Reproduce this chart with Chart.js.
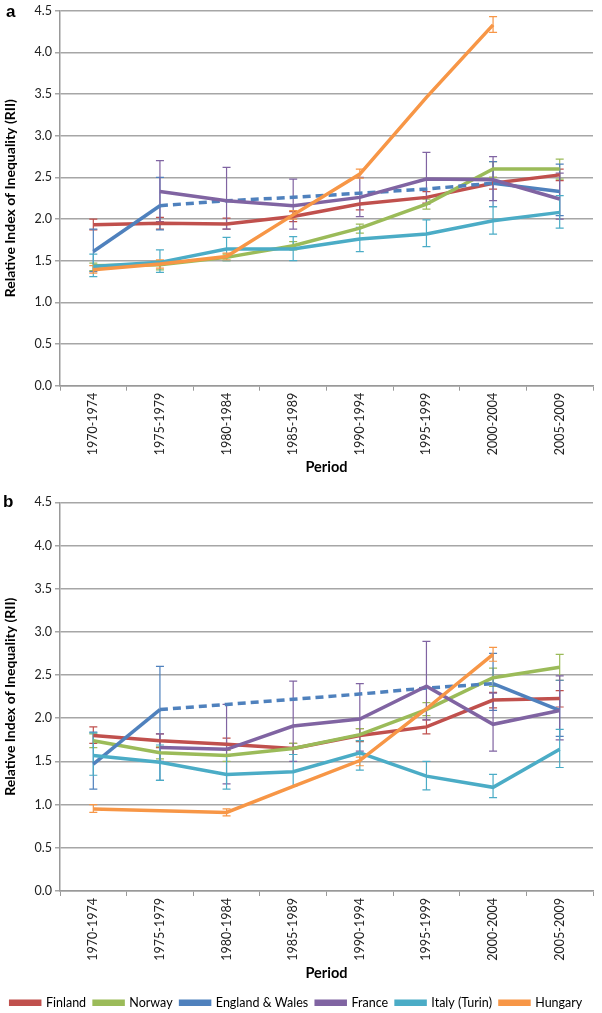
<!DOCTYPE html>
<html>
<head>
<meta charset="utf-8">
<script src="https://cdn.jsdelivr.net/npm/chart.js@4"></script>
<style>
  body { margin: 0; background: #fff; overflow: hidden; }
  .wrap { position: relative; width: 602px; }
  canvas { display: block; }
  .tag { position: absolute; font: bold 17px "Liberation Sans", Arial, sans-serif; color: #000; }
</style>
</head>
<body>
<div class="wrap">
  <div class="tag" style="left:6px;top:2px">a</div>
  <canvas id="chartA" width="602" height="488"></canvas>
  <div class="tag" style="left:3px;top:492px">b</div>
  <canvas id="chartB" width="602" height="531"></canvas>
</div>
<script>
const periods = ['1970-1974', '1975-1979', '1980-1984', '1985-1989', '1990-1994', '1995-1999', '2000-2004', '2005-2009'];
const countries = ['Finland', 'Norway', 'England & Wales', 'France', 'Italy (Turin)', 'Hungary'];
const colors = ['#C0504D', '#9BBB59', '#4F81BD', '#8064A2', '#4BACC6', '#F79646'];

// panel a
const finlandA = [1.93, 1.95, 1.94, 2.03, 2.18, 2.26, 2.43, 2.53];
const finlandALo = [1.87, 1.88, 1.88, 1.97, 2.11, 2.19, 2.36, 2.46];
const finlandAHi = [2.00, 2.02, 2.01, 2.09, 2.26, 2.33, 2.50, 2.60];
const norwayA = [1.44, 1.45, 1.54, 1.68, 1.89, 2.18, 2.60, 2.60];
const norwayALo = [1.38, 1.39, 1.50, 1.63, 1.83, 2.12, 2.50, 2.48];
const norwayAHi = [1.47, 1.50, 1.58, 1.73, 1.94, 2.24, 2.69, 2.72];
const ewA = [1.61, 2.16, 2.22, 2.26, 2.31, 2.36, 2.43, 2.33];
const ewALo = [1.37, 1.87, null, null, null, null, 2.15, 2.04];
const ewAHi = [1.88, 2.50, null, null, null, null, 2.69, 2.66];
const franceA = [null, 2.33, 2.22, 2.16, 2.26, 2.48, 2.47, 2.24];
const franceALo = [null, 1.97, 1.88, 1.88, 2.03, 2.18, 2.22, 2.00];
const franceAHi = [null, 2.70, 2.62, 2.48, 2.50, 2.80, 2.75, 2.55];
const italyA = [1.43, 1.48, 1.64, 1.64, 1.76, 1.82, 1.98, 2.08];
const italyALo = [1.31, 1.36, 1.50, 1.50, 1.61, 1.67, 1.82, 1.89];
const italyAHi = [1.58, 1.63, 1.78, 1.79, 1.90, 1.99, 2.15, 2.28];
const hungaryA = [1.39, 1.46, 1.55, 2.05, 2.54, 3.46, 4.33, null];
const hungaryALo = [1.35, 1.41, 1.51, 2.00, 2.49, null, 4.24, null];
const hungaryAHi = [1.44, 1.51, 1.59, 2.10, 2.60, null, 4.43, null];

// panel b
const finlandB = [1.80, 1.74, 1.70, 1.65, 1.80, 1.90, 2.21, 2.23];
const finlandBLo = [1.71, 1.66, 1.63, 1.58, 1.73, 1.82, 2.12, 2.13];
const finlandBHi = [1.90, 1.82, 1.77, 1.71, 1.88, 1.98, 2.30, 2.32];
const norwayB = [1.74, 1.60, 1.57, 1.65, 1.81, 2.10, 2.47, 2.59];
const norwayBLo = [1.66, 1.53, 1.50, 1.58, 1.74, 2.03, 2.37, 2.44];
const norwayBHi = [1.82, 1.67, 1.63, 1.71, 1.88, 2.18, 2.58, 2.74];
const ewB = [1.47, 2.10, 2.16, 2.22, 2.28, 2.35, 2.40, 2.09];
const ewBLo = [1.18, 1.28, null, null, null, null, 2.09, 1.79];
const ewBHi = [1.84, 2.60, null, null, null, null, 2.75, 2.44];
const franceB = [null, 1.66, 1.64, 1.91, 1.99, 2.37, 1.93, 2.09];
const franceBLo = [null, 1.50, 1.24, 1.50, 1.62, 1.98, 1.62, 1.75];
const franceBHi = [null, 1.82, 2.16, 2.43, 2.40, 2.89, 2.29, 2.49];
const italyB = [1.57, 1.49, 1.35, 1.38, 1.60, 1.33, 1.20, 1.64];
const italyBLo = [1.34, 1.28, 1.18, 1.21, 1.40, 1.17, 1.08, 1.43];
const italyBHi = [1.83, 1.69, 1.56, 1.58, 1.74, 1.50, 1.35, 1.87];
const hungaryB = [0.95, null, 0.91, 1.21, 1.51, 2.11, 2.74, null];
const hungaryBLo = [0.91, null, 0.87, null, 1.45, null, 2.66, null];
const hungaryBHi = [1.00, null, 0.95, null, 1.55, null, 2.82, null];

const font = 'Lato, sans-serif';

// draws the confidence intervals under the lines
const errorBars = {
  id: 'errorBars',
  beforeDatasetsDraw(chart) {
    const ctx = chart.ctx, x = chart.scales.x, y = chart.scales.y;
    ctx.save();
    ctx.lineWidth = 1.2;
    chart.data.datasets.forEach(ds => {
      ctx.strokeStyle = ds.borderColor;
      ds.lo.forEach((lo, i) => {
        const hi = ds.hi[i];
        if (lo == null || hi == null) return;
        const px = x.getPixelForValue(i), y1 = y.getPixelForValue(lo), y2 = y.getPixelForValue(hi);
        ctx.beginPath();
        ctx.moveTo(px, y1); ctx.lineTo(px, y2);
        ctx.moveTo(px - 4, y1); ctx.lineTo(px + 4, y1);
        ctx.moveTo(px - 4, y2); ctx.lineTo(px + 4, y2);
        ctx.stroke();
      });
    });
    ctx.restore();
  }
};

function makeSets(values, lows, highs) {
  return countries.map((name, k) => {
    const ds = {
      label: name,
      data: values[k],
      lo: lows[k],
      hi: highs[k],
      borderColor: colors[k],
      backgroundColor: colors[k],
      borderWidth: 3.5,
      pointRadius: 0,
      tension: 0,
      spanGaps: true,
      order: countries.length - k
    };
    if (k === 2) {
      ds.segment = { borderDash: c => (c.p0DataIndex >= 1 && c.p1DataIndex <= 6) ? [8, 5] : undefined };
    }
    return ds;
  });
}

function makeChart(id, sets, padTop, axisH, titlePadBottom, showLegend) {
  return new Chart(document.getElementById(id), {
    type: 'line',
    data: { labels: periods, datasets: sets },
    plugins: [errorBars],
    options: {
      responsive: false,
      animation: false,
      layout: { padding: { top: padTop, right: 9, left: 0, bottom: 0 } },
      plugins: {
        tooltip: { enabled: false },
        legend: {
          display: showLegend,
          position: 'bottom',
          labels: {
            boxWidth: 29, boxHeight: 3, padding: 8,
            color: '#000', font: { family: font, size: 12.5 },
            sort: (a, b) => a.datasetIndex - b.datasetIndex
          }
        }
      },
      scales: {
        x: {
          offset: true,
          grid: { drawOnChartArea: false, offset: true, tickLength: 5, color: '#999', lineWidth: 1 },
          border: { color: '#999', width: 1.5 },
          ticks: { minRotation: 90, maxRotation: 90, color: '#222', font: { family: font, size: 12.5 }, padding: 2 },
          title: { display: true, text: 'Period', color: '#000', font: { family: font, size: 14.5, weight: 'bold' }, padding: { top: 0, bottom: titlePadBottom } },
          afterFit: s => { s.height = axisH; }
        },
        y: {
          min: 0, max: 4.5,
          grid: { color: '#A6A6A6', lineWidth: 1.5, tickLength: 5 },
          border: { color: '#999', width: 1.5 },
          ticks: { stepSize: 0.5, callback: v => v.toFixed(1), color: '#222', font: { family: font, size: 12.5 }, padding: 3 },
          title: { display: true, text: 'Relative Index of Inequality (RII)', color: '#000', font: { family: font, size: 14, weight: 'bold' }, padding: { top: 2, bottom: 0 } },
          afterFit: s => { s.width = 60; }
        }
      }
    }
  });
}

makeChart('chartA',
  makeSets([finlandA, norwayA, ewA, franceA, italyA, hungaryA],
    [finlandALo, norwayALo, ewALo, franceALo, italyALo, hungaryALo],
    [finlandAHi, norwayAHi, ewAHi, franceAHi, italyAHi, hungaryAHi]),
  10.7, 102.3, 12, false);

makeChart('chartB',
  makeSets([finlandB, norwayB, ewB, franceB, italyB, hungaryB],
    [finlandBLo, norwayBLo, ewBLo, franceBLo, italyBLo, hungaryBLo],
    [finlandBHi, norwayBHi, ewBHi, franceBHi, italyBHi, hungaryBHi]),
  14.3, 97.5, 6, true);
</script>
</body>
</html>
